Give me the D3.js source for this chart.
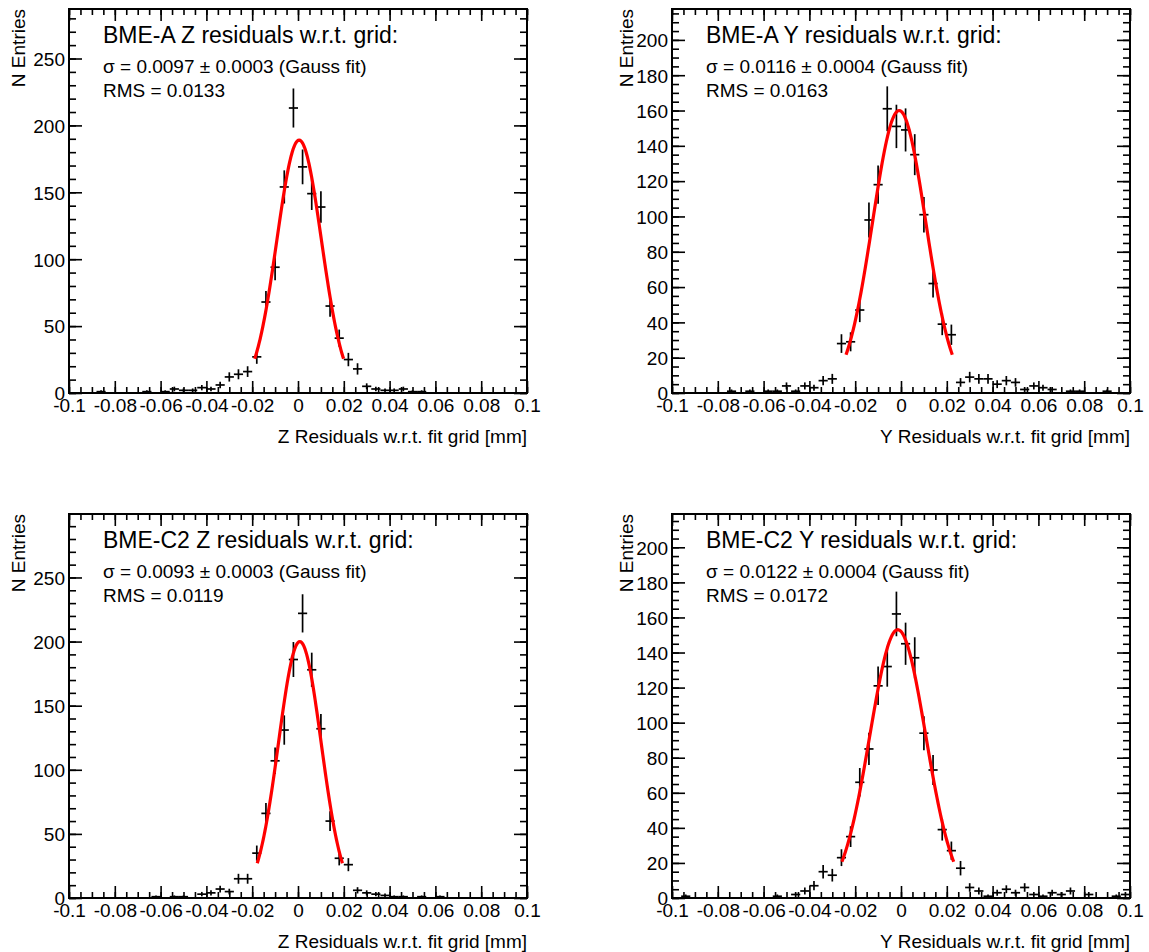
<!DOCTYPE html>
<meta charset="utf-8">
<script src="https://d3js.org/d3.v7.min.js"></script>
<style>
  body { margin: 0; background: #fff; }
  svg { font-family: "Liberation Sans", Arial, Helvetica, sans-serif; }
</style>
<svg id="chart" width="1149" height="952"></svg>
<script>

// histogram bins: 50 bins of 0.004 from -0.1 to 0.1
const binLow = -0.1, binWidth = 0.004, nBins = 50;

// counts per bin
const azCounts = [0,0,0,1,0,0,0,0,1,0,
  1,3,2,2,4,3,6,12,14,16,
  27,68,94,154,213,169,149,139,65,41,
  25,18,5,3,2,2,3,1,1,0,
  0,0,0,0,0,0,0,0,0,0];
const ayCounts = [0,0,0,0,0,0,1,0,1,0,
  1,1,4,1,4,3,7,8,28,29,
  47,98,118,161,151,149,135,101,62,39,
  33,6,9,8,8,5,7,6,2,4,
  3,2,0,1,1,0,0,1,0,0];
const czCounts = [0,0,0,0,0,0,0,0,0,1,
  0,1,1,0,3,4,7,5,15,15,
  35,66,107,131,186,222,178,132,60,31,
  26,6,4,3,2,1,1,0,1,0,
  1,0,0,0,0,0,0,0,0,0];
const cyCounts = [0,1,0,0,0,0,0,0,0,0,
  0,1,0,2,4,7,15,13,23,35,
  66,85,121,132,162,145,137,94,73,39,
  27,17,6,4,1,3,5,3,6,2,
  1,3,2,4,0,2,0,0,1,2];

// gauss fit parameters (amplitude, mean, sigma), drawn over mean +- 2 sigma
const fitAmp   = [189, 160, 200, 153];
const fitMean  = [0.0005, -0.0008, 0.0008, -0.0014];
const fitSigma = [0.0097, 0.0116, 0.0093, 0.0122];

// axis ranges and tick labels
const yMax = [287, 217.5, 299.5, 219];
const yMajorStep = [50, 20, 50, 20];
const yMinorStep = [10, 5, 10, 5];
const xMajorTicks = [-0.1,-0.08,-0.06,-0.04,-0.02,0,0.02,0.04,0.06,0.08,0.1];

// texts
const titles = ["BME-A Z residuals w.r.t. grid:", "BME-A Y residuals w.r.t. grid:",
                "BME-C2 Z residuals w.r.t. grid:", "BME-C2 Y residuals w.r.t. grid:"];
const sigmaTexts = ["\u03c3 = 0.0097 \u00b1 0.0003 (Gauss fit)", "\u03c3 = 0.0116 \u00b1 0.0004 (Gauss fit)",
                    "\u03c3 = 0.0093 \u00b1 0.0003 (Gauss fit)", "\u03c3 = 0.0122 \u00b1 0.0004 (Gauss fit)"];
const rmsTexts = ["RMS = 0.0133", "RMS = 0.0163", "RMS = 0.0119", "RMS = 0.0172"];
const xTitles = ["Z Residuals w.r.t. fit grid [mm]", "Y Residuals w.r.t. fit grid [mm]",
                 "Z Residuals w.r.t. fit grid [mm]", "Y Residuals w.r.t. fit grid [mm]"];
const yTitle = "N Entries";

const allCounts = [azCounts, ayCounts, czCounts, cyCounts];

// pad layout
const frameW = 458, frameH = 384;
const frameX = [69, 672, 69, 672];
const frameY = [9, 9, 514, 514];
const yTitleX = [25, 633, 25, 633];

const svg = d3.select("#chart");

const fmt = d => d === 0 ? "0" : String(+d.toFixed(2));

function drawPanel(p) {
  const g = svg.append("g").attr("transform", `translate(${frameX[p]},${frameY[p]})`);
  const x = d3.scaleLinear().domain([-0.1, 0.1]).range([0, frameW]);
  const y = d3.scaleLinear().domain([0, yMax[p]]).range([frameH, 0]);

  const yMajor = d3.range(0, yMax[p] + 1e-9, yMajorStep[p]);
  const yMinor = d3.range(0, yMax[p] + 1e-9, yMinorStep[p]);
  const xMinor = d3.range(-0.1, 0.1 + 1e-9, 0.005);

  // minor ticks on all four sides, major ticks mirrored on top/right
  const tickAxes = [
    [d3.axisBottom(x).tickValues(xMinor).tickSizeInner(-6), `translate(0,${frameH})`],
    [d3.axisTop(x).tickValues(xMinor).tickSizeInner(-6), null],
    [d3.axisLeft(y).tickValues(yMinor).tickSizeInner(-7), null],
    [d3.axisRight(y).tickValues(yMinor).tickSizeInner(-7), `translate(${frameW},0)`],
    [d3.axisTop(x).tickValues(xMajorTicks).tickSizeInner(-12), null],
    [d3.axisRight(y).tickValues(yMajor).tickSizeInner(-13), `translate(${frameW},0)`]
  ];
  tickAxes.forEach(([ax, tr]) => {
    const a = g.append("g").call(ax.tickSizeOuter(0).tickFormat(""));
    if (tr) a.attr("transform", tr);
    a.select(".domain").remove();
    a.selectAll("line").attr("stroke", "#000").attr("stroke-width", 1.6);
  });

  // labelled major axes
  const xa = g.append("g").attr("transform", `translate(0,${frameH})`)
    .call(d3.axisBottom(x).tickValues(xMajorTicks).tickSizeInner(-12).tickSizeOuter(0)
      .tickPadding(6).tickFormat(fmt));
  const ya = g.append("g")
    .call(d3.axisLeft(y).tickValues(yMajor).tickSizeInner(-13).tickSizeOuter(0)
      .tickPadding(4).tickFormat(d3.format("d")));
  [xa, ya].forEach(a => {
    a.select(".domain").remove();
    a.selectAll("line").attr("stroke", "#000").attr("stroke-width", 1.6);
    a.selectAll("text").attr("fill", "#000").style("font-size", "19px")
      .attr("font-family", null);
  });
  ya.selectAll("text").attr("dy", "0.36em");

  // frame
  g.append("rect").attr("width", frameW).attr("height", frameH)
    .attr("fill", "none").attr("stroke", "#000").attr("stroke-width", 2);

  // data points with error bars
  const pts = allCounts[p].map((n, i) => ({ c: binLow + binWidth * (i + 0.5), n }))
    .filter(d => d.n > 0);
  const pg = g.append("g").attr("stroke", "#000").attr("stroke-width", 1.7);
  pg.selectAll(".v").data(pts).join("line")
    .attr("x1", d => x(d.c)).attr("x2", d => x(d.c))
    .attr("y1", d => y(Math.max(0, d.n - Math.sqrt(d.n))))
    .attr("y2", d => y(d.n + Math.sqrt(d.n)));
  pg.selectAll(".h").data(pts).join("line")
    .attr("x1", d => x(d.c - binWidth / 2)).attr("x2", d => x(d.c + binWidth / 2))
    .attr("y1", d => y(d.n)).attr("y2", d => y(d.n));

  // gauss fit
  const m = fitMean[p], s = fitSigma[p], A = fitAmp[p];
  const fx = d3.range(0, 101).map(k => m - 2 * s + 4 * s * k / 100);
  g.append("path")
    .datum(fx.map(v => [v, A * Math.exp(-0.5 * ((v - m) / s) ** 2)]))
    .attr("fill", "none").attr("stroke", "#ff0000").attr("stroke-width", 3.2)
    .attr("d", d3.line().x(d => x(d[0])).y(d => y(d[1])));

  // texts
  g.append("text").attr("x", 34).attr("y", 34).style("font-size", "23px").text(titles[p]);
  g.append("text").attr("x", 34).attr("y", 64).style("font-size", "19px").text(sigmaTexts[p]);
  g.append("text").attr("x", 34).attr("y", 88).style("font-size", "19px").text(rmsTexts[p]);

  g.append("text").attr("x", frameW).attr("y", frameH + 50)
    .attr("text-anchor", "end").style("font-size", "19px").text(xTitles[p]);

  svg.append("text")
    .attr("transform", `translate(${yTitleX[p]},${frameY[p]}) rotate(-90)`)
    .attr("text-anchor", "end").style("font-size", "19px").text(yTitle);
}

[0, 1, 2, 3].forEach(drawPanel);

</script>
